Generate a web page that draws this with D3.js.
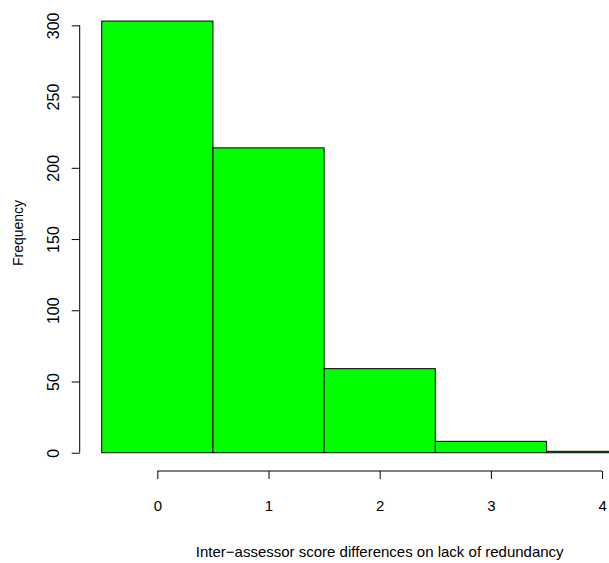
<!DOCTYPE html>
<html>
<head>
<meta charset="utf-8">
<script src="https://cdn.jsdelivr.net/npm/d3@7"></script>
<style>
  html, body { margin: 0; padding: 0; background: #fff; }
  svg { display: block; }
  text { font-family: "Liberation Sans", Arial, Helvetica, sans-serif; fill: #000; }
</style>
</head>
<body>
<svg id="chart" width="609" height="563"></svg>
<script>
// Histogram of inter-assessor score differences
const binEdges = [-0.5, 0.5, 1.5, 2.5, 3.5, 4.5];
const counts = [303, 214, 59, 8, 1];
const xTicks = [0, 1, 2, 3, 4];
const yTicks = [0, 50, 100, 150, 200, 250, 300];
const xTitle = "Inter\u2212assessor score differences on lack of redundancy";
const yTitle = "Frequency";

const svg = d3.select("#chart");

// plot region with 4% padding on each side of the data range
const xMin = d3.min(binEdges), xMax = d3.max(binEdges);
const xPad = (xMax - xMin) * 0.04;
const yMaxVal = d3.max(counts);
const yPad = yMaxVal * 0.04;

const x = d3.scaleLinear().domain([xMin - xPad, xMax + xPad]).range([79.5, 679.9]);
const y = d3.scaleLinear().domain([-yPad, yMaxVal + yPad]).range([470, 3.8]);

const bins = counts.map((c, i) => ({ x0: binEdges[i], x1: binEdges[i + 1], count: c }));

// bars
svg.append("g")
  .selectAll("rect")
  .data(bins)
  .join("rect")
  .attr("x", d => x(d.x0))
  .attr("y", d => y(d.count))
  .attr("width", d => x(d.x1) - x(d.x0))
  .attr("height", d => y(0) - y(d.count))
  .attr("fill", "#00ff00")
  .attr("stroke", "#000")
  .attr("stroke-width", 1);

// x axis
const xAxisG = svg.append("g").attr("transform", "translate(0,471)");
xAxisG.call(d3.axisBottom(x).tickValues(xTicks).tickSize(8).tickSizeOuter(0).tickFormat(d3.format("d")));
xAxisG.select(".domain").remove();
xAxisG.append("line")
  .attr("x1", x(xTicks[0])).attr("x2", x(xTicks[xTicks.length - 1]))
  .attr("y1", 0).attr("y2", 0)
  .attr("stroke", "#000");
xAxisG.selectAll(".tick line").attr("stroke", "#000");
xAxisG.selectAll(".tick text")
  .attr("y", 40).attr("dy", null)
  .attr("font-size", 15)
  .style("font-family", "'Liberation Sans', Arial, sans-serif");

// y axis
const yAxisG = svg.append("g").attr("transform", "translate(79.7,0)");
yAxisG.call(d3.axisLeft(y).tickValues(yTicks).tickSize(8).tickSizeOuter(0).tickFormat(d3.format("d")));
yAxisG.select(".domain").remove();
yAxisG.append("line")
  .attr("x1", 0).attr("x2", 0)
  .attr("y1", y(yTicks[0])).attr("y2", y(yTicks[yTicks.length - 1]))
  .attr("stroke", "#000");
yAxisG.selectAll(".tick line").attr("stroke", "#000");
yAxisG.selectAll(".tick text")
  .attr("x", null).attr("dy", null)
  .attr("text-anchor", "middle")
  .attr("transform", "translate(-20.3,0) rotate(-90)")
  .attr("font-size", 16)
  .style("font-family", "'Liberation Sans', Arial, sans-serif");

// axis titles
svg.append("text")
  .attr("x", (x.range()[0] + x.range()[1]) / 2)
  .attr("y", 557)
  .attr("text-anchor", "middle")
  .attr("font-size", 15)
  .text(xTitle);

svg.append("text")
  .attr("transform", "translate(23,233) rotate(-90)")
  .attr("text-anchor", "middle")
  .attr("font-size", 14)
  .text(yTitle);
</script>
</body>
</html>
